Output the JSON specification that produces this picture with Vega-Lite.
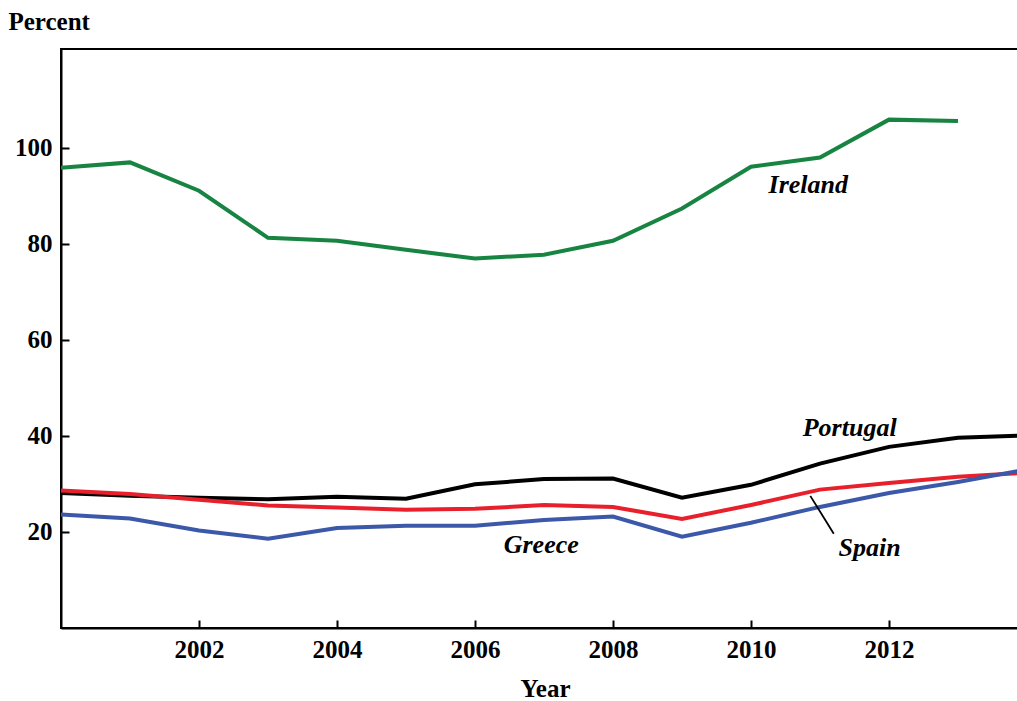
{
  "$schema": "https://vega.github.io/schema/vega-lite/v6.json",
  "width": 957,
  "height": 579,
  "autosize": {"type": "none"},
  "padding": {"left": 61, "top": 49, "right": 0, "bottom": 73},
  "background": "white",
  "config": {
    "view": {"stroke": "black", "strokeWidth": 2},
    "font": "Liberation Serif",
    "axis": {
      "domainColor": "black", "domainWidth": 2,
      "tickColor": "black", "tickWidth": 2, "tickSize": -8,
      "labelFont": "Liberation Serif", "labelFontSize": 25, "labelFontWeight": "bold", "labelColor": "black",
      "titleFont": "Liberation Serif", "titleFontSize": 25, "titleColor": "black", "titleFontWeight": "bold",
      "grid": false
    }
  },
  "datasets": {
    "series": [
      {"year": 2000, "value": 95.8, "country": "Ireland"},
      {"year": 2001, "value": 96.9, "country": "Ireland"},
      {"year": 2002, "value": 91.0, "country": "Ireland"},
      {"year": 2003, "value": 81.2, "country": "Ireland"},
      {"year": 2004, "value": 80.6, "country": "Ireland"},
      {"year": 2005, "value": 78.7, "country": "Ireland"},
      {"year": 2006, "value": 76.9, "country": "Ireland"},
      {"year": 2007, "value": 77.7, "country": "Ireland"},
      {"year": 2008, "value": 80.6, "country": "Ireland"},
      {"year": 2009, "value": 87.3, "country": "Ireland"},
      {"year": 2010, "value": 96.0, "country": "Ireland"},
      {"year": 2011, "value": 97.9, "country": "Ireland"},
      {"year": 2012, "value": 105.8, "country": "Ireland"},
      {"year": 2013, "value": 105.5, "country": "Ireland"},
      {"year": 2000, "value": 28.1, "country": "Portugal"},
      {"year": 2001, "value": 27.5, "country": "Portugal"},
      {"year": 2002, "value": 27.1, "country": "Portugal"},
      {"year": 2003, "value": 26.8, "country": "Portugal"},
      {"year": 2004, "value": 27.3, "country": "Portugal"},
      {"year": 2005, "value": 26.9, "country": "Portugal"},
      {"year": 2006, "value": 29.9, "country": "Portugal"},
      {"year": 2007, "value": 31.0, "country": "Portugal"},
      {"year": 2008, "value": 31.1, "country": "Portugal"},
      {"year": 2009, "value": 27.1, "country": "Portugal"},
      {"year": 2010, "value": 29.8, "country": "Portugal"},
      {"year": 2011, "value": 34.2, "country": "Portugal"},
      {"year": 2012, "value": 37.7, "country": "Portugal"},
      {"year": 2013, "value": 39.6, "country": "Portugal"},
      {"year": 2014, "value": 40.1, "country": "Portugal"},
      {"year": 2000, "value": 28.6, "country": "Spain"},
      {"year": 2001, "value": 27.9, "country": "Spain"},
      {"year": 2002, "value": 26.7, "country": "Spain"},
      {"year": 2003, "value": 25.5, "country": "Spain"},
      {"year": 2004, "value": 25.1, "country": "Spain"},
      {"year": 2005, "value": 24.6, "country": "Spain"},
      {"year": 2006, "value": 24.8, "country": "Spain"},
      {"year": 2007, "value": 25.6, "country": "Spain"},
      {"year": 2008, "value": 25.2, "country": "Spain"},
      {"year": 2009, "value": 22.7, "country": "Spain"},
      {"year": 2010, "value": 25.6, "country": "Spain"},
      {"year": 2011, "value": 28.8, "country": "Spain"},
      {"year": 2012, "value": 30.2, "country": "Spain"},
      {"year": 2013, "value": 31.5, "country": "Spain"},
      {"year": 2014, "value": 32.3, "country": "Spain"},
      {"year": 2000, "value": 23.6, "country": "Greece"},
      {"year": 2001, "value": 22.8, "country": "Greece"},
      {"year": 2002, "value": 20.3, "country": "Greece"},
      {"year": 2003, "value": 18.6, "country": "Greece"},
      {"year": 2004, "value": 20.8, "country": "Greece"},
      {"year": 2005, "value": 21.3, "country": "Greece"},
      {"year": 2006, "value": 21.3, "country": "Greece"},
      {"year": 2007, "value": 22.5, "country": "Greece"},
      {"year": 2008, "value": 23.2, "country": "Greece"},
      {"year": 2009, "value": 19.0, "country": "Greece"},
      {"year": 2010, "value": 21.9, "country": "Greece"},
      {"year": 2011, "value": 25.2, "country": "Greece"},
      {"year": 2012, "value": 28.1, "country": "Greece"},
      {"year": 2013, "value": 30.4, "country": "Greece"},
      {"year": 2014, "value": 33.0, "country": "Greece"}
    ],
    "labels": [
      {"label": "Ireland", "x": 2010.83, "y": 92.3},
      {"label": "Portugal", "x": 2011.43, "y": 41.7},
      {"label": "Greece", "x": 2006.96, "y": 17.3},
      {"label": "Spain", "x": 2011.72, "y": 16.7}
    ],
    "leader": [
      {"x": 2010.86, "y": 27.5, "x2": 2011.2, "y2": 19.6}
    ]
  },
  "layer": [
    {
      "data": {"name": "series"},
      "mark": {"type": "line", "strokeWidth": 4, "clip": true},
      "encoding": {
        "x": {
          "field": "year", "type": "quantitative",
          "scale": {"domain": [2000, 2013.87], "nice": false, "zero": false},
          "axis": {
            "values": [2002, 2004, 2006, 2008, 2010, 2012], "format": "d",
            "labelPadding": 17, "title": "Year",
            "titleX": 484, "titleY": 68, "titleBaseline": "alphabetic", "titleAlign": "center"
          }
        },
        "y": {
          "field": "value", "type": "quantitative",
          "scale": {"domain": [0, 120.5], "nice": false},
          "axis": {
            "values": [20, 40, 60, 80, 100], "labelPadding": 17,
            "title": "Percent", "titleAngle": 0, "titleAlign": "left",
            "titleX": -53, "titleY": -20, "titleBaseline": "alphabetic"
          }
        },
        "color": {
          "field": "country", "type": "nominal",
          "scale": {"domain": ["Ireland", "Portugal", "Spain", "Greece"], "range": ["#188442", "#000000", "#e8202c", "#3c58a8"]},
          "legend": null
        },
        "detail": {"field": "country"}
      }
    },
    {
      "data": {"name": "leader"},
      "mark": {"type": "rule", "color": "black", "strokeWidth": 1.8},
      "encoding": {
        "x": {"field": "x", "type": "quantitative"},
        "y": {"field": "y", "type": "quantitative"},
        "x2": {"field": "x2"},
        "y2": {"field": "y2"}
      }
    },
    {
      "data": {"name": "labels"},
      "mark": {"type": "text", "font": "Liberation Serif", "fontSize": 26, "fontStyle": "italic", "fontWeight": "bold", "color": "black", "align": "center", "baseline": "middle"},
      "encoding": {
        "x": {"field": "x", "type": "quantitative"},
        "y": {"field": "y", "type": "quantitative"},
        "text": {"field": "label"}
      }
    }
  ]
}
